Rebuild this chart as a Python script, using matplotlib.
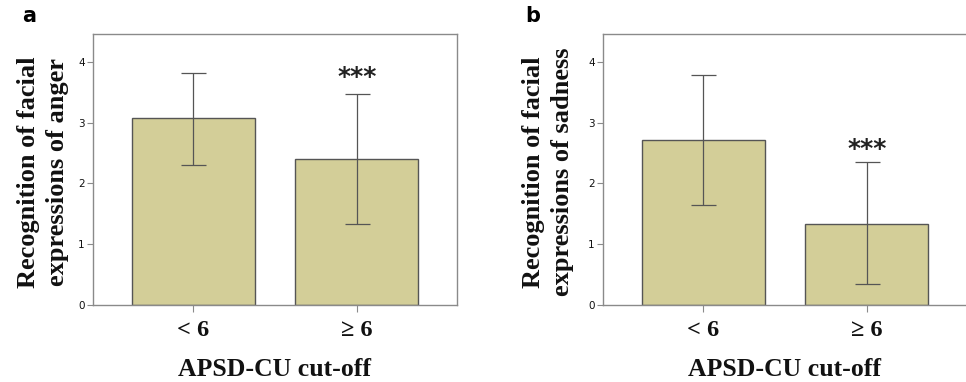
import matplotlib
matplotlib.use("Agg")
import matplotlib.pyplot as plt

categories = ["< 6", "\u2265 6"]
anger_means = [3.07, 2.41]
anger_err_low = [2.31, 1.33]
anger_err_high = [3.82, 3.48]
sad_means = [2.72, 1.34]
sad_err_low = [1.65, 0.34]
sad_err_high = [3.78, 2.35]
yticks = [0, 1, 2, 3, 4]
panel_letters = ["a", "b"]
ylabels = ["Recognition of facial\nexpressions of anger",
           "Recognition of facial\nexpressions of sadness"]
xlabel = "APSD-CU cut-off"
sig = "***"

W, H = 966, 382
fig = plt.figure(figsize=(W / 100, H / 100), dpi=100)

bar_color = "#D3CE98"
edge = "#555555"
spine_c = "#8a8a8a"
serif = ["Liberation Serif", "DejaVu Serif"]

panels = [
    (93, anger_means, anger_err_low, anger_err_high, 3.75, 22, 43),
    (603, sad_means, sad_err_low, sad_err_high, 2.57, 525, 548),
]
ax_w = 364
for i, (left, means, lo, hi, sig_y, letter_x, ylab_x) in enumerate(panels):
    ax = fig.add_axes([left / W, 1 - 305 / H, ax_w / W, 271 / H])
    x = list(range(len(categories)))
    yerr = [[m - l for m, l in zip(means, lo)], [h - m for m, h in zip(means, hi)]]
    ax.bar(x, means, width=0.75, color=bar_color, edgecolor=edge, linewidth=1.0, zorder=2)
    ax.errorbar(x, means, yerr=yerr, fmt="none", ecolor=edge, elinewidth=0.9,
                capsize=9, capthick=0.9, zorder=3)
    ax.text(1, sig_y, sig, ha="center", va="center", fontsize=18,
            fontweight="bold", color="#222222", family="DejaVu Sans")
    ax.set_xlim(-0.61, 1.61)
    ax.set_ylim(0, 4.46)
    ax.set_yticks(yticks)
    ax.set_yticklabels([str(t) for t in yticks], fontsize=7.5, color="#111111")
    ax.set_xticks(x)
    ax.set_xticklabels(categories, fontsize=17.5, fontweight="bold",
                       family=serif, color="#111111")
    ax.tick_params(axis="y", direction="out", length=4, width=0.8, color=spine_c, pad=2)
    ax.tick_params(axis="x", direction="out", length=5, width=0.8, color=spine_c, pad=6)
    for s in ax.spines.values():
        s.set_color(spine_c)
        s.set_linewidth(1.0)
    cx = (left + ax_w / 2) / W
    fig.text(cx, 1 - 376 / H, xlabel, fontsize=18.5, fontweight="bold", family=serif,
             ha="center", va="baseline", color="#111111")
    fig.text(letter_x / W, 1 - 16 / H, panel_letters[i], fontsize=15,
             fontweight="bold", family="DejaVu Sans", ha="left", va="center")
    fig.text(ylab_x / W, 1 - 172 / H, ylabels[i], rotation=90, fontsize=19,
             fontweight="bold", family=serif, ha="center", va="center",
             linespacing=1.3, multialignment="center", color="#111111")

fig.savefig("out.png", dpi=100)
